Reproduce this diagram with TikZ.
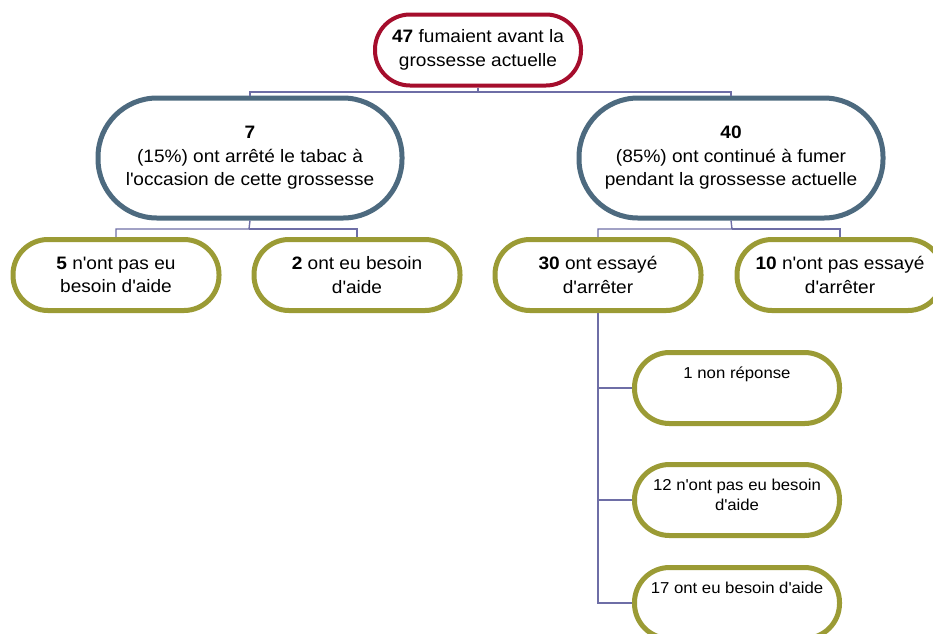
\documentclass[tikz,border=0pt]{standalone}
\usepackage{fontspec}
\setmainfont{Liberation Sans}[FakeStretch=1.06]
\newcommand{\ap}{\textquotesingle}
\definecolor{redc}{HTML}{A50D2C}
\definecolor{bluec}{HTML}{4D6A7F}
\definecolor{olivec}{HTML}{9B9B35}
\definecolor{linec}{HTML}{6E6EA6}
\tikzset{
  mainfont/.style={font=\fontsize{18}{23.5}\selectfont},
  smallfont/.style={font=\fontsize{15.8}{20}\selectfont},
  pillbase/.style={fill=white, inner sep=0pt, align=center, text=black},
  topbox/.style={pillbase, mainfont, draw=redc, line width=4pt, minimum width=206pt, minimum height=71pt, rounded corners=35pt},
  midbox/.style={pillbase, mainfont, draw=bluec, line width=5pt, minimum width=304pt, minimum height=120pt, rounded corners=59pt},
  leafbox/.style={pillbase, mainfont, draw=olivec, line width=5pt, minimum width=206pt, minimum height=71pt, rounded corners=35pt},
  subbox/.style={pillbase, draw=olivec, line width=5pt, minimum width=205pt, minimum height=71pt, rounded corners=35pt},
  subtext/.style={smallfont, anchor=north, inner sep=0pt, align=center},
  conn/.style={draw=linec, line width=1.4pt},
}
\begin{document}
\begin{tikzpicture}[x=1pt,y=-1pt]
\useasboundingbox (0,0) rectangle (933,633);
\coordinate (j0) at (478,92);
\coordinate (j1) at (249,229);
\coordinate (j2) at (732,229);
\node[topbox] (top) at (478,50) {\textbf{47} fumaient avant la\\grossesse actuelle};
\node[midbox] (bL) at (250,158) {\textbf{7}\\(15\%) ont arrêté le tabac à\\l\ap occasion de cette grossesse};
\node[midbox] (bR) at (731,158) {\textbf{40}\\(85\%) ont continué à fumer\\pendant la grossesse actuelle};
\node[leafbox] (g5) at (116,275) {\textbf{5} n\ap ont pas eu\\besoin d\ap aide};
\node[leafbox] (g2) at (357,275) {\textbf{2} ont eu besoin\\d\ap aide};
\node[leafbox] (g30) at (598,275) {\textbf{30} ont essayé\\d\ap arrêter};
\node[leafbox] (g10) at (840,275) {\textbf{10} n\ap ont pas essayé\\d\ap arrêter};
\node[subbox] (s1) at (737,388) {};
\node[subbox] (s2) at (737,500) {};
\node[subbox] (s3) at (737,603) {};
\node[subtext] (t1) at ([yshift=-17pt]s1.north) {1 non réponse};
\node[subtext] (t2) at ([yshift=-17pt]s2.north) {12 n\ap ont pas eu besoin\\d\ap aide};
\node[subtext] (t3) at ([yshift=-17pt]s3.north) {17 ont eu besoin d\ap aide};
\draw[conn] (top.south) -- (j0) -| (bL.north);
\draw[conn] (j0) -| (bR.north);
\draw[conn] (bL.south) -- (j1) -| (g5.north);
\draw[conn] (j1) -| (g2.north);
\draw[conn] (bR.south) -- (j2) -| (g30.north);
\draw[conn] (j2) -| (g10.north);
\draw[conn] (g30.south) |- (s1.west);
\draw[conn] (g30.south) |- (s2.west);
\draw[conn] (g30.south) |- (s3.west);
\end{tikzpicture}
\end{document}
